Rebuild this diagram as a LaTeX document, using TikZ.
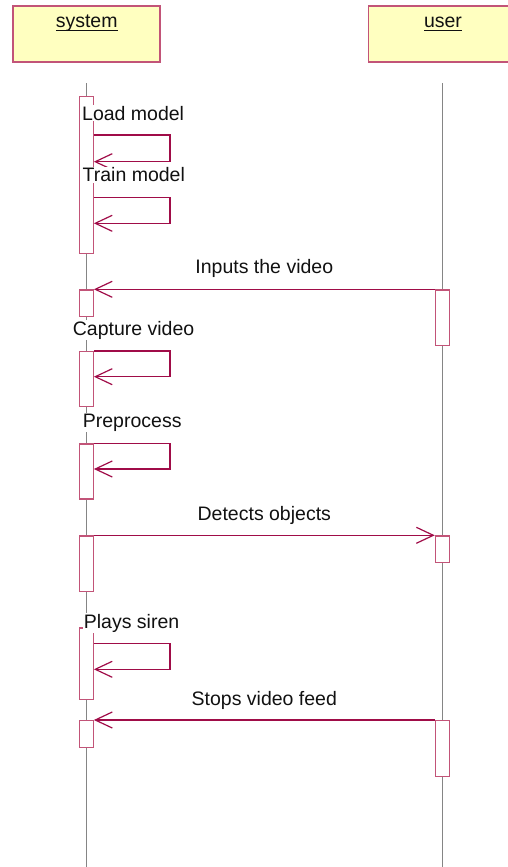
\documentclass[tikz,border=0pt]{standalone}
\usepackage{fontspec}
\setmainfont{Liberation Sans}
\usetikzlibrary{arrows.meta}
\definecolor{headfill}{HTML}{FFFFC0}
\definecolor{edgepink}{HTML}{C25478}
\definecolor{msgred}{HTML}{A00C48}
\definecolor{lifegray}{HTML}{858585}
\definecolor{inkblack}{HTML}{111111}
% underlined object name with a rule at a fixed depth
\newcommand\ulname[1]{\setbox0\hbox{#1}\rlap{\rule[-3.4pt]{\wd0}{0.9pt}}\box0}
\begin{document}
\begin{tikzpicture}[x=1pt,y=-1pt,
  every node/.style={font=\fontsize{19.5}{23}\selectfont, text=inkblack},
  headbox/.style={draw=edgepink, fill=headfill, line width=1.3pt,
    minimum width=147pt, minimum height=56pt, inner sep=0pt},
  lifeline/.style={draw=lifegray, line width=1.1pt},
  actbar/.style={draw=edgepink, fill=white, line width=1.3pt,
    minimum width=14pt, inner sep=0pt, anchor=north},
  msg/.style={draw=msgred, line width=1.2pt,
    -{Straight Barb[length=17pt,width=16pt,line width=1.2pt]}},
  lbl/.style={fill=white, inner sep=1pt, anchor=base west},
  msglbl/.style={anchor=base, inner sep=0pt}
]
\clip (0,0) rectangle (508,867);
\useasboundingbox (0,0) rectangle (508,867);

% object heads
\node[headbox] (sysbox) at (86.5,34) {};
\node[headbox, minimum width=148.7pt] (userbox) at (442.7,34) {};
\node[msglbl] (systitle) at (86.7,28) {\ulname{system}};
\node[msglbl] (usertitle) at (443,28) {\ulname{user}};

% lifelines
\coordinate (systop) at (86.5,83);
\coordinate (sysbot) at (86.5,867);
\coordinate (usertop) at (442.6,83);
\coordinate (userbot) at (442.6,867);
\draw[lifeline] (systop) -- (sysbot);
\draw[lifeline] (usertop) -- (userbot);

% activation bars of system
\node[actbar, minimum height=156.7pt] (s1) at (86.2,96) {};
\node[actbar, minimum height=26.7pt] (s2) at (86.2,289.3) {};
\node[actbar, minimum height=55.3pt] (s3) at (86.2,350.7) {};
\node[actbar, minimum height=55pt] (s4) at (86.2,443.3) {};
\node[actbar, minimum height=55.7pt] (s5) at (86.2,535.3) {};
\node[actbar, minimum height=71.7pt] (s6) at (86.2,627.3) {};
\node[actbar, minimum height=26.7pt] (s7) at (86.2,720) {};

% activation bars of user
\node[actbar, minimum height=55.7pt] (u1) at (442.4,289.3) {};
\node[actbar, minimum height=26.7pt] (u2) at (442.4,535.3) {};
\node[actbar, minimum height=55.7pt] (u3) at (442.4,720) {};

% self messages
\draw[msg] (s1.east |- 0,135) -- (170,135) -- (170,161.7) -- (s1.east |- 0,161.7);
\draw[msg] (s1.east |- 0,197.3) -- (170,197.3) -- (170,223.3) -- (s1.east |- 0,223.3);
\draw[msg] (s3.east |- 0,351) -- (170,351) -- (170,376.7) -- (s3.east |- 0,376.7);
\draw[msg] (s4.east |- 0,443.3) -- (170,443.3) -- (170,469) -- (s4.east |- 0,469);
\draw[msg] (s6.east |- 0,643.3) -- (170,643.3) -- (170,669.3) -- (s6.east |- 0,669.3);

% messages between the objects
\draw[msg] (u1.north west) -- (s2.north east)
  node[msglbl, midway, yshift=16pt] (m1) {Inputs the video};
\draw[msg] (s5.north east) -- (u2.north west)
  node[msglbl, midway, yshift=15.3pt] (m2) {Detects objects};
\draw[msg] (u3.north west) -- (s7.north east)
  node[msglbl, midway, yshift=15pt] (m3) {Stops video feed};

% labels of the self messages
\node[lbl] (l1) at (81,120) {Load model};
\node[lbl] (l2) at (81.5,181.7) {Train model};
\node[lbl] (l3) at (71.7,335) {Capture video};
\node[lbl] (l4) at (81.7,427.3) {Preprocess};
\node[lbl] (l5) at (82.7,628.3) {Plays siren};
\end{tikzpicture}
\end{document}
